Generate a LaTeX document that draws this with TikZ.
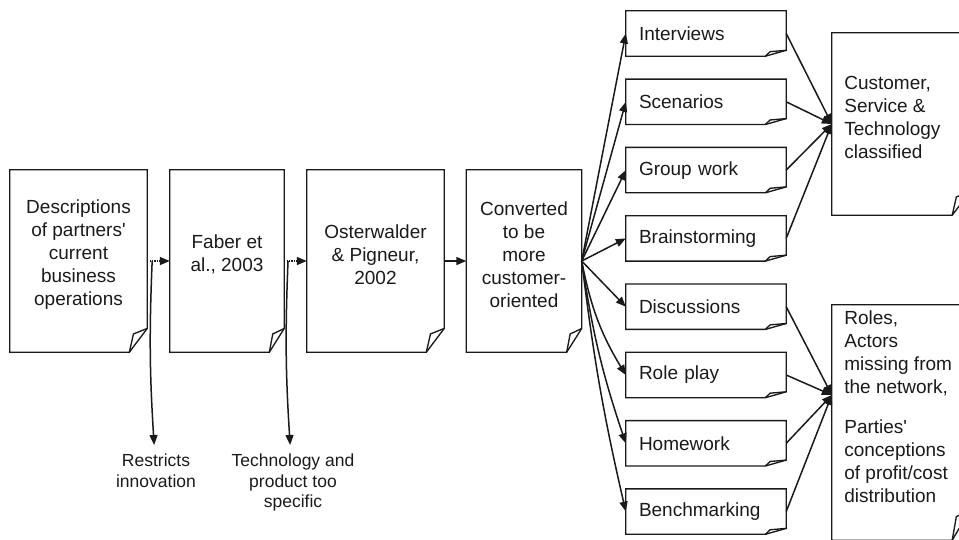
\documentclass[tikz,border=0pt]{standalone}
\usepackage{fontspec}
\setmainfont{Liberation Sans}
\usepackage{tikz}
\usetikzlibrary{arrows.meta, positioning, calc}

\definecolor{ink}{HTML}{1A1A1A}

\begin{document}
\begin{tikzpicture}[x=1pt,y=-1pt,node distance=148.5pt,color=ink,
  docline/.style={line width=1.35pt},
  docpage/.style={inner sep=0pt, append after command={\pgfextra{
    \draw[docline] (\tikzlastnode.north west) -- (\tikzlastnode.north east)
      -- ($(\tikzlastnode.south east)!0.13!(\tikzlastnode.north east)$)
      -- ($(\tikzlastnode.south east)!0.13!(\tikzlastnode.south west)$)
      -- (\tikzlastnode.south west) -- cycle;
    \draw[docline] ($(\tikzlastnode.south east)!0.13!(\tikzlastnode.south west)$)
      -- ($(\tikzlastnode.south east)!0.1!(\tikzlastnode.north west)$)
      -- ($(\tikzlastnode.south east)!0.13!(\tikzlastnode.north east)$);}}},
  doctext/.style={font=\fontsize{19}{23}\selectfont, align=center},
  sidetext/.style={doctext, align=left, anchor=west, xshift=9pt},
  item/.style={docpage, minimum width=160pt, minimum height=45pt,
    text width=134pt, inner xsep=13pt, align=left, font=\fontsize{19}{23}\selectfont},
  note/.style={font=\fontsize{17.5}{20.5}\selectfont, align=center,
    inner xsep=0pt, inner ysep=9pt, anchor=north},
  arr/.style={-{Triangle[length=10pt,width=8pt]}, line width=1.5pt},
  dots/.style={dash pattern=on 1.2pt off 1.2pt}]

  \useasboundingbox (0,0) rectangle (959,539);

  % main chain of documents
  \node[docpage, minimum width=137pt, minimum height=182pt,
    label={[doctext,yshift=6.7pt]center:{Descriptions\\of partners\textquotesingle\\current\\business\\operations}}]
    (desc) at (78.5,261) {};
  \node[docpage, minimum width=114pt, minimum height=182pt,
    label={[doctext,yshift=6.7pt]center:{Faber et\\al., 2003}}]
    (faber) [right of=desc] {};
  \node[docpage, minimum width=137pt, minimum height=182pt,
    label={[doctext,yshift=6.7pt]center:{Osterwalder\\\& Pigneur,\\2002}}]
    (oster) [right of=faber] {};
  \node[docpage, minimum width=115pt, minimum height=182pt,
    label={[doctext,yshift=6.7pt]center:{Converted\\to be\\more\\customer-\\oriented}}]
    (conv) [right of=oster] {};

  % methods
  \begin{scope}[node distance=68.3pt]
    \node[item] (interviews) at (706,33.5) {Interviews};
    \node[item] (scenarios) [below of=interviews] {Scenarios};
    \node[item] (groupwork) [below of=scenarios] {Group work};
    \node[item] (brainstorm) [below of=groupwork] {Brainstorming};
    \node[item] (discuss) [below of=brainstorm] {Discussions};
    \node[item] (roleplay) [below of=discuss] {Role play};
    \node[item] (homework) [below of=roleplay] {Homework};
    \node[item] (benchmark) [below of=homework] {Benchmarking};
  \end{scope}

  % results
  \node[docpage, minimum width=138pt, minimum height=182pt,
    label={[sidetext,yshift=6.5pt]west:{Customer,\\Service \&\\Technology\\classified}}]
    (cust) at (901,124) {};
  \node[docpage, minimum width=138pt, minimum height=235pt,
    label={[sidetext,yshift=15.5pt]west:{Roles,\\Actors\\missing from\\the network,\\[17pt]Parties\textquotesingle\\conceptions\\of profit/cost\\distribution}}]
    (roles) at (901,422.5) {};
  \coordinate (rolesin) at ([yshift=27.5pt]roles.west);

  \draw[arr,dots] (desc) -- coordinate[pos=0.22] (split1) (faber);
  \draw[arr,dots] (faber) -- coordinate[pos=0.17] (split2) (oster);
  \draw[arr] (oster) -- (conv);

  \node[note] (restricts) at (156,445) {Restricts\\innovation};
  \node[note] (techspec) at (293,445) {Technology and\\product too\\specific};
  \draw[arr] (split1) to[bend right=3] (restricts);
  \draw[arr] (split2) to[bend right=3] (techspec);

  \path[arr] (conv.east)
    edge (interviews.west)
    edge (scenarios.west)
    edge (groupwork.west)
    edge (brainstorm.west)
    edge (discuss.west)
    edge[bend right=10] (roleplay.west)
    edge[bend right=5] (homework.west)
    edge[bend right=3] (benchmark.west);

  \path[arr]
    (interviews.east) edge (cust.west)
    (scenarios.east) edge (cust.west)
    (groupwork.east) edge (cust.west)
    (brainstorm.east) edge (cust.west)
    (discuss.east) edge (rolesin)
    (roleplay.east) edge (rolesin)
    (homework.east) edge (rolesin)
    (benchmark.east) edge (rolesin);
\end{tikzpicture}
\end{document}
